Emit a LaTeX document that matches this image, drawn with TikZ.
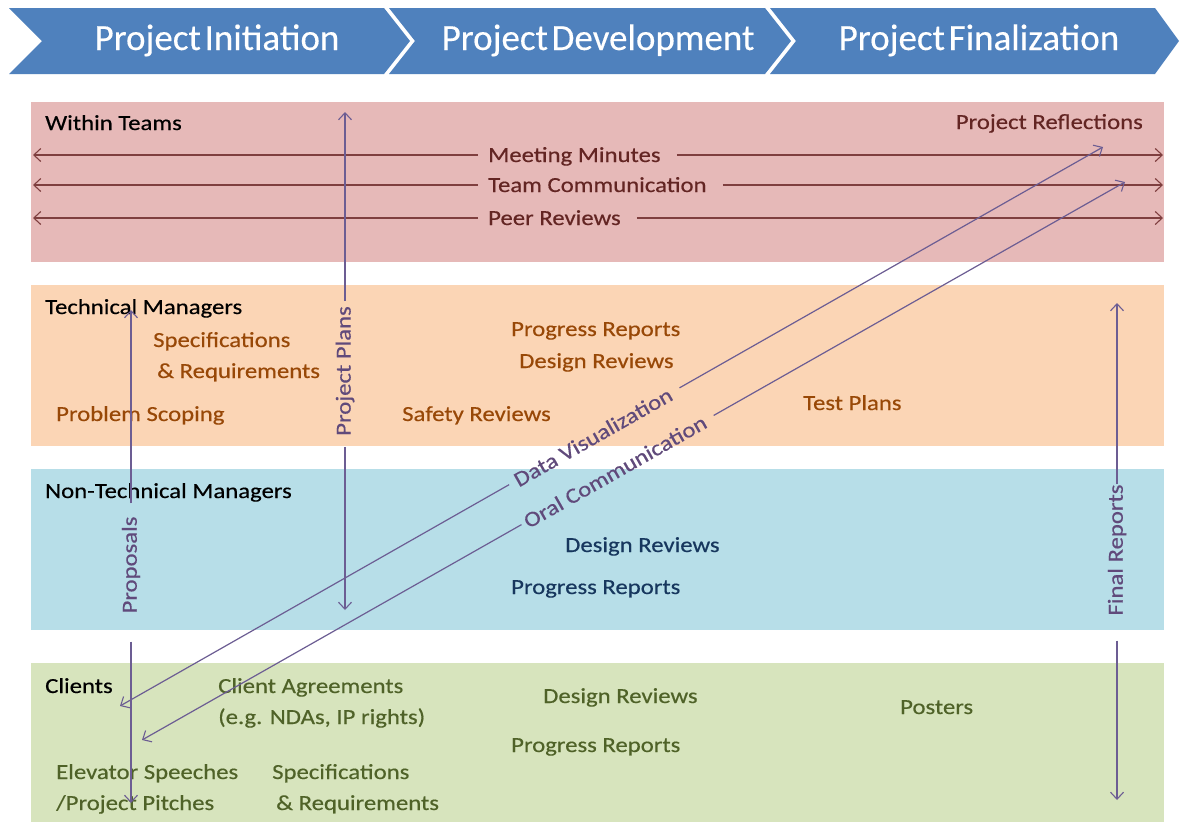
\documentclass[tikz,border=0pt]{standalone}
\usepackage{fontspec}
\setmainfont{Carlito}
\newfontfamily\bandfont[FakeStretch=1.15,FakeBold=0.4]{Carlito}
\newfontfamily\chevfont[WordSpace=0.45,FakeBold=0.3]{Carlito}
\usetikzlibrary{arrows.meta}
\definecolor{chev}{HTML}{4F81BD}
\definecolor{bandpink}{HTML}{E6B9B8}
\definecolor{bandpeach}{HTML}{FBD5B5}
\definecolor{bandblue}{HTML}{B7DEE8}
\definecolor{bandgreen}{HTML}{D7E4BD}
\definecolor{redtext}{HTML}{632523}
\definecolor{redline}{HTML}{7F3F3F}
\definecolor{brtext}{HTML}{984807}
\definecolor{bltext}{HTML}{17375E}
\definecolor{grtext}{HTML}{4F6228}
\definecolor{purtext}{HTML}{604A7B}
\definecolor{purline}{HTML}{6C5D93}
\begin{document}
\begin{tikzpicture}[x=1pt,y=-1pt,
  every node/.style={inner sep=0pt},
  btxt/.style={font=\bandfont\fontsize{21.5}{26}\selectfont, anchor=base west},
  hdr/.style={btxt, text=black},
  chevtxt/.style={font=\chevfont\fontsize{37}{40}\selectfont, text=white, anchor=base},
  opentip/.style={-{Straight Barb[length=7pt,width=13pt,line width=1.1pt]}},
  redarr/.style={opentip, draw=redline, line width=1.3pt},
  purarr/.style={opentip, draw=purline, line width=1.2pt},
  vlab/.style={font=\bandfont\fontsize{21.5}{26}\selectfont, text=purtext, rotate=90, anchor=center},
  dlab/.style={font=\bandfont\fontsize{21.5}{26}\selectfont, text=purtext, rotate=29.6, anchor=center}]
\useasboundingbox (0,0) rectangle (1180,822);
\fill[white] (0,0) rectangle (1180,822);
% chevrons
\fill[chev] (9,8) -- (384,8) -- (410,41) -- (384,74) -- (9,74) -- (42,41) -- cycle;
\fill[chev] (389,8) -- (765,8) -- (791,41) -- (765,74) -- (389,74) -- (415,41) -- cycle;
\fill[chev] (770,8) -- (1155,8) -- (1179,41) -- (1155,74) -- (770,74) -- (796,41) -- cycle;
\node[chevtxt] (ch1) at (217,50) {Project Initiation};
\node[chevtxt] (ch2) at (598,50) {Project Development};
\node[chevtxt] (ch3) at (979,50) {Project Finalization};
% bands
\fill[bandpink] (31,102) rectangle (1164,262);
\fill[bandpeach] (31,285) rectangle (1164,446);
\fill[bandblue] (31,469) rectangle (1164,630);
\fill[bandgreen] (31,663) rectangle (1164,822);
% band 1
\node[hdr] (wt) at (45,130) {Within Teams};
\node[btxt, text=redtext, anchor=base east] (refl) at (1143,129) {Project Reflections};
\node[btxt, text=redtext] (mm) at (488,162) {Meeting Minutes};
\node[btxt, text=redtext] (tc) at (488,192) {Team Communication};
\node[btxt, text=redtext] (pr) at (488,225) {Peer Reviews};
\coordinate (mmL) at (33,155); \coordinate (mmR) at (1163,155);
\coordinate (tcL) at (33,185); \coordinate (tcR) at (1163,185);
\coordinate (prL) at (33,218); \coordinate (prR) at (1163,218);
\draw[redarr, shorten <=10pt] (mm.west |- mmL) -- (mmL);
\draw[redarr, shorten <=16pt] (mm.east |- mmR) -- (mmR);
\draw[redarr, shorten <=10pt] (tc.west |- tcL) -- (tcL);
\draw[redarr, shorten <=16pt] (tc.east |- tcR) -- (tcR);
\draw[redarr, shorten <=10pt] (pr.west |- prL) -- (prL);
\draw[redarr, shorten <=16pt] (pr.east |- prR) -- (prR);
% band 2
\node[hdr] (tm) at (45,314) {Technical Managers};
\node[btxt, text=brtext] (spec1) at (153,347) {Specifications};
\node[btxt, text=brtext] (spec2) at (157,378) {\& Requirements};
\node[btxt, text=brtext] (ps) at (56,421) {Problem Scoping};
\node[btxt, text=brtext] (pr2) at (511,336) {Progress Reports};
\node[btxt, text=brtext] (dr2) at (519,368) {Design Reviews};
\node[btxt, text=brtext] (sr) at (402,421) {Safety Reviews};
\node[btxt, text=brtext] (tp) at (803,410) {Test Plans};
% band 3
\node[hdr] (ntm) at (45,498) {Non-Technical Managers};
\node[btxt, text=bltext] (dr3) at (565,552) {Design Reviews};
\node[btxt, text=bltext] (pr3) at (511,594) {Progress Reports};
% band 4
\node[hdr] (cl) at (45,693) {Clients};
\node[btxt, text=grtext] (ca1) at (218,693) {Client Agreements};
\node[btxt, text=grtext] (ca2) at (218,724) {(e.g. NDAs, IP rights)};
\node[btxt, text=grtext] (dr4) at (543,703) {Design Reviews};
\node[btxt, text=grtext] (pr4) at (511,752) {Progress Reports};
\node[btxt, text=grtext] (po) at (900,714) {Posters};
\node[btxt, text=grtext] (es1) at (56,779) {Elevator Speeches};
\node[btxt, text=grtext] (es2) at (56,810) {/Project Pitches};
\node[btxt, text=grtext] (sp41) at (272,779) {Specifications};
\node[btxt, text=grtext] (sp42) at (276,810) {\& Requirements};
% vertical arrows
\node[vlab] (pp) at (345,371) {Project Plans};
\coordinate (ppT) at (345,112); \coordinate (ppB) at (345,610);
\draw[purarr, shorten <=5pt] (pp.east) -- (ppT);
\draw[purarr, shorten <=11pt] (pp.west) -- (ppB);
\node[vlab] (prop) at (131,565) {Proposals};
\coordinate (propT) at (131,310); \coordinate (propB) at (131,803);
\draw[purarr, shorten <=13pt] (prop.east) -- (propT);
\draw[purarr, shorten <=28pt] (prop.west) -- (propB);
\node[vlab] (fr) at (1117,550) {Final Reports};
\coordinate (frT) at (1117,303); \coordinate (frB) at (1117,800);
\draw[purarr] (fr.east) -- (frT);
\draw[purarr, shorten <=25pt] (fr.west) -- (frB);
% diagonal arrows
\node[dlab] (dv) at (593,437) {Data Visualization};
\coordinate (dvT) at (1103,147); \coordinate (dvB) at (120,706);
\draw[purarr, shorten <=10pt] (dv.east) -- (dvT);
\draw[purarr, shorten <=7pt] (dv.west) -- (dvB);
\node[dlab] (oc) at (615,471.5) {Oral Communication};
\coordinate (ocT) at (1125,182); \coordinate (ocB) at (142,740);
\draw[purarr, shorten <=10pt] (oc.east) -- (ocT);
\draw[purarr, shorten <=4pt] (oc.west) -- (ocB);
\end{tikzpicture}
\end{document}
